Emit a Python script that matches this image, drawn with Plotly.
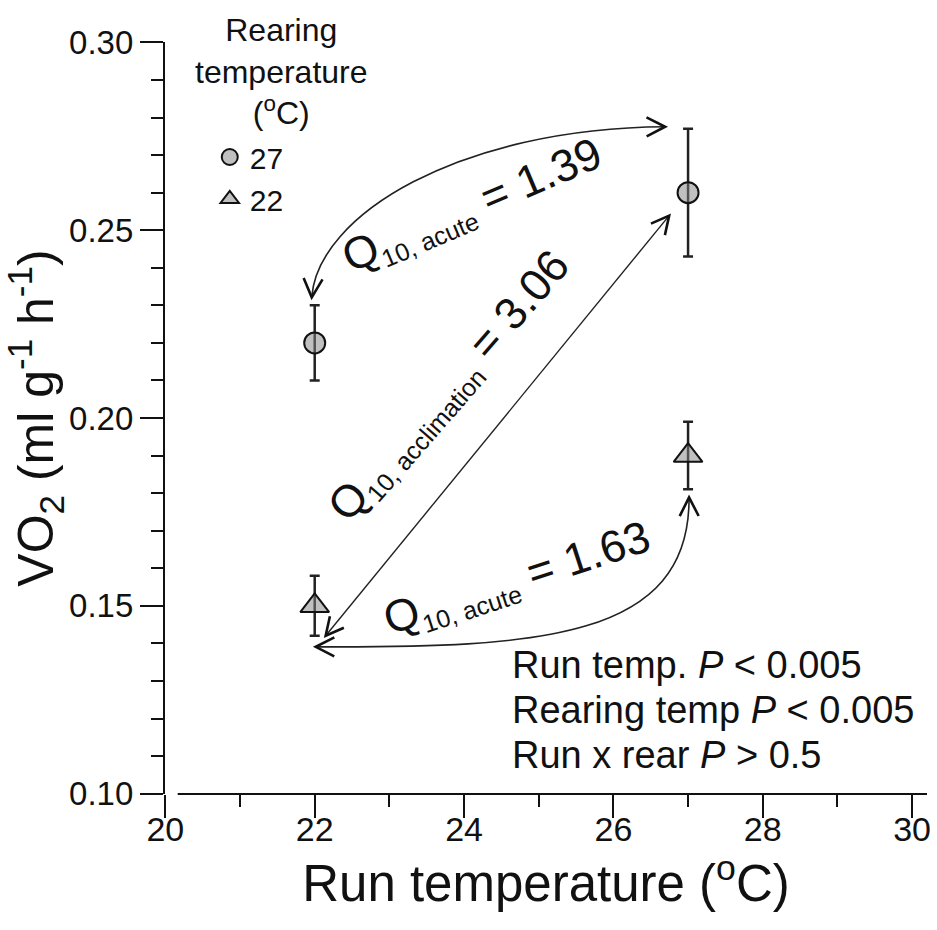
import plotly.graph_objects as go
import numpy as np

# ---------------- data ----------------
run_temp = [22, 27]
vo2_rear27 = [0.220, 0.260]
err_rear27 = [0.010, 0.017]
vo2_rear22 = [0.150, 0.190]
err_rear22 = [0.008, 0.009]
series_names = ["27", "22"]
x_ticks = [20, 22, 24, 26, 28, 30]
y_ticks = [0.10, 0.15, 0.20, 0.25, 0.30]
SUB = '<sub><span style="font-size:25px">{}</span></sub>'
q10_labels = ["Q" + SUB.format("10, acute") + " = 1.39",
              "Q" + SUB.format("10, acclimation") + " = 3.06",
              "Q" + SUB.format("10, acute") + " = 1.63"]
stats_lines = ["Run temp. <i>P</i> < 0.005",
               "Rearing temp <i>P</i> < 0.005",
               "Run x rear <i>P</i> > 0.5"]
legend_title = "Rearing<br>temperature<br>(<sup>o</sup>C)"

# ---------------- geometry helpers ----------------
W, H = 937, 930
L, R, T, B = 165, 931, 42, 794
XR = [20.0, 30.2]
YR = [0.10, 0.30]

def px(x):
    return L + (x - XR[0]) / (XR[1] - XR[0]) * (R - L)
def py(y):
    return B - (y - YR[0]) / (YR[1] - YR[0]) * (B - T)
def dx(p):
    return XR[0] + (p - L) / (R - L) * (XR[1] - XR[0])
def dy(p):
    return YR[0] + (B - p) / (B - T) * (YR[1] - YR[0])
def paper_x(p):
    return (p - L) / (R - L)
def paper_y(p):
    return (B - p) / (B - T)

FONT = "Liberation Sans, Arial, sans-serif"

fig = go.Figure()
fig.add_trace(go.Scatter(
    x=run_temp, y=vo2_rear27, mode="markers", name=series_names[0],
    marker=dict(symbol="circle", size=21, color="rgba(130,130,130,0.5)",
                line=dict(color="#111", width=2)),
    error_y=dict(type="data", array=err_rear27, color="#222", thickness=2.5, width=5)))
fig.add_trace(go.Scatter(
    x=run_temp, y=vo2_rear22, mode="markers", name=series_names[1],
    marker=dict(symbol="triangle-up", size=25, color="rgba(130,130,130,0.5)",
                line=dict(color="#111", width=2)),
    error_y=dict(type="data", array=err_rear22, color="#222", thickness=2.5, width=5)))

shapes = []

def cubic_path(P):
    return "M {},{} C {},{} {},{} {},{}".format(
        dx(P[0][0]), dy(P[0][1]), dx(P[1][0]), dy(P[1][1]),
        dx(P[2][0]), dy(P[2][1]), dx(P[3][0]), dy(P[3][1]))

def arrowhead(tip, frm, length=21, ang=27):
    v = np.array(tip, float) - np.array(frm, float)
    v /= np.linalg.norm(v)
    out = []
    for s in (1, -1):
        a = np.deg2rad(ang * s)
        rot = np.array([[np.cos(a), -np.sin(a)], [np.sin(a), np.cos(a)]])
        w = rot @ (-v) * length
        out.append((tip[0] + w[0], tip[1] + w[1]))
    return "M {},{} L {},{} L {},{}".format(
        dx(out[0][0]), dy(out[0][1]), dx(tip[0]), dy(tip[1]), dx(out[1][0]), dy(out[1][1]))

line_style = dict(color="#222", width=1.6)
head_style = dict(color="#111", width=2.6)

# arrow 1: top curve between rear27 points
c22 = (px(run_temp[0]), py(vo2_rear27[0] + err_rear27[0]))
c27 = (px(run_temp[1]), py(vo2_rear27[1] + err_rear27[1]))
P1 = [(c22[0] - 3, c22[1] - 8), (c22[0] + 3, 215), (460, 128), (c27[0] - 23, c27[1] - 2)]
shapes.append(dict(type="path", path=cubic_path(P1), line=line_style, xref="x", yref="y"))
shapes.append(dict(type="path", path=arrowhead(P1[0], P1[1]), line=head_style, xref="x", yref="y"))
shapes.append(dict(type="path", path=arrowhead(P1[3], P1[2]), line=head_style, xref="x", yref="y"))

# arrow 2: straight between triangle 22 and circle 27
a0 = (px(run_temp[0]) + 11, py(vo2_rear22[0]) + 30)
a1 = (px(run_temp[1]) - 19, py(vo2_rear27[1]) + 23)
shapes.append(dict(type="path", path="M {},{} L {},{}".format(dx(a0[0]), dy(a0[1]), dx(a1[0]), dy(a1[1])),
                   line=dict(color="#222", width=1.4), xref="x", yref="y"))
shapes.append(dict(type="path", path=arrowhead(a0, a1, 20, 27), line=head_style, xref="x", yref="y"))
shapes.append(dict(type="path", path=arrowhead(a1, a0, 20, 27), line=head_style, xref="x", yref="y"))

# arrow 3: bottom curve between rear22 points
t22 = (px(run_temp[0]), py(vo2_rear22[0] - err_rear22[0]))
t27 = (px(run_temp[1]), py(vo2_rear22[1] - err_rear22[1]))
P3 = [(t22[0] + 1, t22[1] + 11), (540, 648), (t27[0] + 2, 640), (t27[0] + 1, t27[1] + 8)]
shapes.append(dict(type="path", path=cubic_path(P3), line=line_style, xref="x", yref="y"))
shapes.append(dict(type="path", path=arrowhead(P3[0], P3[1]), line=head_style, xref="x", yref="y"))
shapes.append(dict(type="path", path=arrowhead(P3[3], P3[2]), line=head_style, xref="x", yref="y"))

# x axis line (offset start)
shapes.append(dict(type="line", xref="paper", yref="paper",
                   x0=paper_x(px(20.17)), x1=1.0, y0=0, y1=0,
                   line=dict(color="#111", width=2.2)))

annotations = []
q_pos = [((474, 206), -23), ((451, 386), -49), ((519, 580), -18)]
for txt, ((cx, cy), ang) in zip(q10_labels, q_pos):
    annotations.append(dict(x=dx(cx), y=dy(cy), xref="x", yref="y", text=txt,
                            showarrow=False, textangle=ang,
                            font=dict(family=FONT, size=45, color="#111")))
for line, ycen in zip(stats_lines, [665, 710, 755]):
    annotations.append(dict(x=dx(512), y=dy(ycen), xref="x", yref="y",
                            text=line, showarrow=False,
                            xanchor="left", yanchor="middle", align="left",
                            font=dict(family=FONT, size=38, color="#111")))
annotations.append(dict(x=paper_x(282), y=paper_y(10), xref="paper", yref="paper",
                        text=legend_title, showarrow=False, xanchor="center", yanchor="top",
                        align="center", font=dict(family=FONT, size=32, color="#111")))

fig.update_layout(
    width=W, height=H,
    margin=dict(l=L, r=W - R, t=T, b=H - B, pad=0),
    plot_bgcolor="white", paper_bgcolor="white",
    shapes=shapes, annotations=annotations,
    showlegend=True,
    legend=dict(x=paper_x(210), y=paper_y(131), xanchor="left", yanchor="top",
                bgcolor="rgba(0,0,0,0)",
                font=dict(family=FONT, size=30, color="#111"),
                tracegroupgap=0, itemsizing="trace"),
    xaxis=dict(range=[19.995, XR[1]], tickvals=x_ticks, ticks="outside", ticklen=23,
               tickwidth=2, tickcolor="#111", showline=False, showgrid=False, zeroline=False,
               ticklabelstandoff=-18,
               tickfont=dict(family=FONT, size=34, color="#111"),
               minor=dict(dtick=1, tick0=20, ticks="outside", ticklen=12, tickwidth=2,
                          tickcolor="#111", showgrid=False),
               title=dict(text="Run temperature (<sup>o</sup>C)", standoff=0,
                          font=dict(family=FONT, size=51, color="#111"))),
    yaxis=dict(range=[0.0999, 0.3001], tickvals=y_ticks, tickformat=".2f", ticks="outside",
               ticklen=23, tickwidth=2, tickcolor="#111", showline=True, linewidth=2.2,
               linecolor="#111", showgrid=False, zeroline=False,
               tickfont=dict(family=FONT, size=33, color="#111"),
               minor=dict(dtick=0.01, tick0=0.10, ticks="outside", ticklen=12, tickwidth=2,
                          tickcolor="#111", showgrid=False),
               title=dict(text="VO<sub>2</sub> (ml g<sup>-1</sup> h<sup>-1</sup>)", standoff=6,
                          font=dict(family=FONT, size=50, color="#111"))),
)

fig.write_html("out.html")
